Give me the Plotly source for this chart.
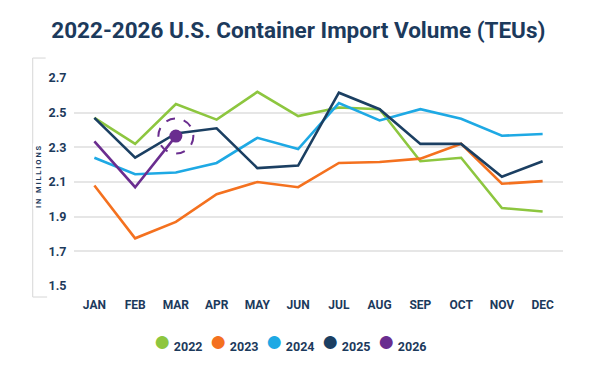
import plotly.graph_objects as go

months = ["JAN", "FEB", "MAR", "APR", "MAY", "JUN", "JUL", "AUG", "SEP", "OCT", "NOV", "DEC"]
y2022 = [2.47, 2.32, 2.55, 2.46, 2.62, 2.48, 2.53, 2.52, 2.22, 2.24, 1.95, 1.93]
y2023 = [2.08, 1.775, 1.87, 2.03, 2.10, 2.07, 2.21, 2.215, 2.235, 2.32, 2.09, 2.105]
y2024 = [2.24, 2.145, 2.155, 2.21, 2.355, 2.29, 2.555, 2.455, 2.52, 2.465, 2.367, 2.377]
y2025 = [2.47, 2.24, 2.38, 2.41, 2.18, 2.195, 2.615, 2.52, 2.32, 2.32, 2.13, 2.22]
y2026 = [2.335, 2.07, 2.365]

series = [
    ("2022", y2022, "#8dc63f"),
    ("2023", y2023, "#f4711f"),
    ("2024", y2024, "#1ea9e4"),
    ("2025", y2025, "#1b3f62"),
    ("2026", y2026, "#6a2d8f"),
]
yticks = [1.5, 1.7, 1.9, 2.1, 2.3, 2.5, 2.7]

navy = "#1c3a5c"
fig = go.Figure()
for name, vals, col in series:
    fig.add_trace(go.Scatter(x=months[:len(vals)], y=vals, mode="lines", name=name,
                             line=dict(color=col, width=2.6), showlegend=False, hoverinfo="skip"))
# highlighted latest point for 2026
fig.add_trace(go.Scatter(x=[months[len(y2026) - 1]], y=[y2026[-1]], mode="markers",
                         marker=dict(color="#6a2d8f", size=13), showlegend=False))
# legend entries: coloured dot glyph + label
for name, vals, col in series:
    fig.add_trace(go.Scatter(x=[None], y=[None], mode="markers",
                             name=f'<span style="color:{col};font-size:30px">●</span>\u2009{name}',
                             marker=dict(color="rgba(0,0,0,0)", size=1)))
fig.add_trace(go.Scatter(x=[None], y=[None], mode="markers", name=" ",
                         marker=dict(color="rgba(0,0,0,0)", size=1)))

fig.add_shape(type="circle", xref="x", yref="y", xsizemode="pixel", ysizemode="pixel",
              xanchor=len(y2026) - 1, yanchor=y2026[-1], x0=-17.5, x1=17.5, y0=-17.5, y1=17.5,
              line=dict(color="#6a2d8f", width=2, dash="dash"))

# left bracket
gray = "#dddddd"
fig.add_shape(type="line", xref="paper", yref="paper", x0=-0.0845, x1=-0.0845, y0=1.096, y1=-0.053,
              line=dict(color=gray, width=1.2))
fig.add_shape(type="line", xref="paper", yref="paper", x0=-0.0845, x1=-0.058, y0=1.096, y1=1.096,
              line=dict(color=gray, width=1.2))
fig.add_shape(type="line", xref="paper", yref="paper", x0=-0.0845, x1=-0.055, y0=-0.053, y1=-0.053,
              line=dict(color=gray, width=1.2))
fig.add_annotation(xref="paper", yref="paper", x=-0.0845, y=0.525, text="I N   M I L L I O N S",
                   textangle=-90, showarrow=False, bgcolor="white",
                   font=dict(family="Roboto", size=7.5, color=navy, weight="bold"))

fig.update_layout(
    width=583, height=374,
    margin=dict(l=66, r=28, t=70, b=96),
    paper_bgcolor="white", plot_bgcolor="white",
    title=dict(text="2022-2026 U.S. Container Import Volume (TEUs)", x=0.498, xanchor="center",
               y=1 - 22 / 374, yanchor="middle",
               font=dict(family="Roboto", size=22.5, color=navy, weight="bold")),
    xaxis=dict(type="category", range=[-0.5, 11.5], showgrid=False, zeroline=False, showline=False,
               ticks="outside", ticklen=8, tickcolor="rgba(0,0,0,0)",
               tickfont=dict(family="Roboto", size=12, color=navy, weight="bold")),
    yaxis=dict(range=[1.5, 2.7], tickvals=yticks, ticktext=[f"{v:.1f}" for v in yticks],
               showgrid=True, gridcolor="#e6e6e6", gridwidth=1.5, zeroline=False, showline=False,
               ticks="outside", ticklen=4, tickcolor="rgba(0,0,0,0)",
               tickfont=dict(family="Roboto", size=12.5, color=navy, weight="bold")),
    legend=dict(orientation="h", x=0.080, xanchor="left", y=-0.293, yanchor="middle",
                font=dict(family="Roboto", size=12.5, color=navy, weight="bold"),
                entrywidth=11, entrywidthmode="pixels", itemwidth=30),
)
fig.write_html("out.html")
